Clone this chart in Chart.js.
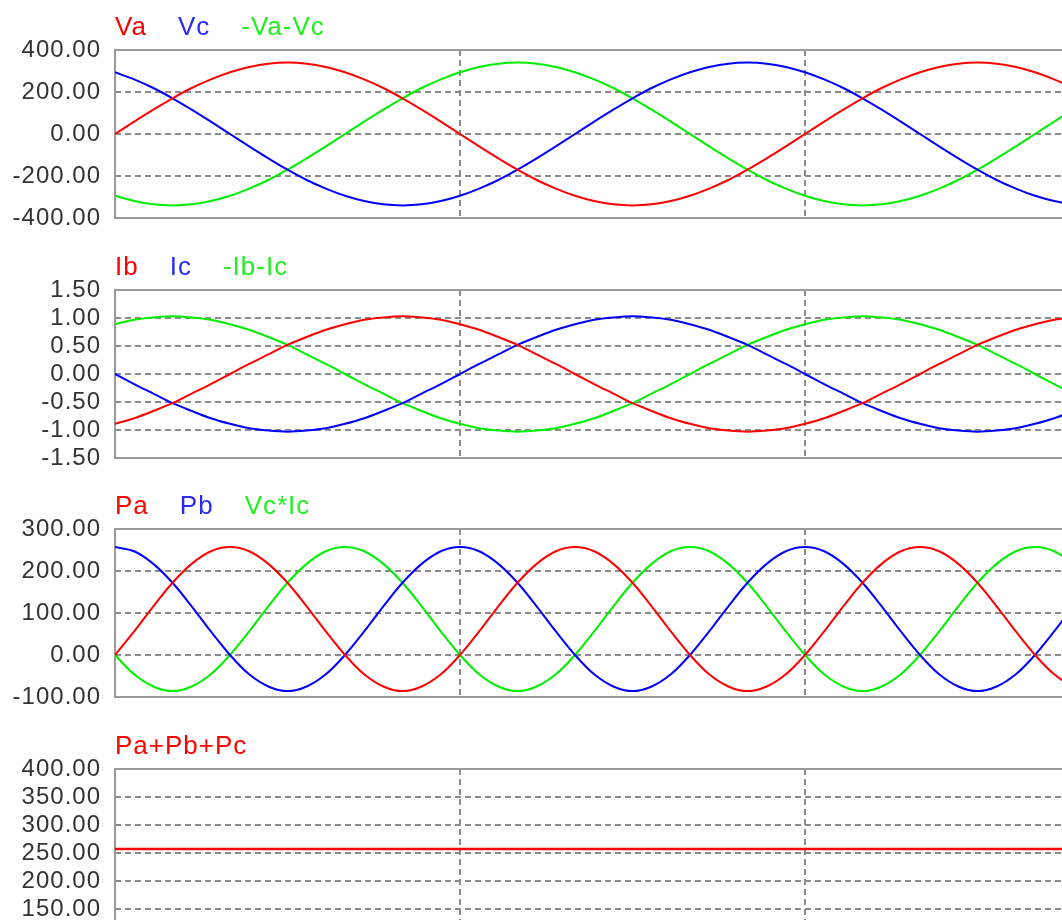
<!DOCTYPE html>
<html>
<head>
<meta charset="utf-8">
<script src="https://cdn.jsdelivr.net/npm/chart.js@4.4.1/dist/chart.umd.min.js"></script>
<style>
html, body { margin: 0; padding: 0; background: #fff; overflow: hidden; width: 1062px; height: 920px; }
.panel { position: absolute; left: 0; width: 1160px; height: 240px; }
.legend { position: absolute; left: 115px; top: 13px; font: 26px 'Liberation Sans', Arial, sans-serif; letter-spacing: 1px; line-height: 26px; white-space: nowrap; z-index: 2; }
.legend span { margin-right: 31px; }
</style>
</head>
<body>
<div class="panel" style="top:0px">
	<div class="legend"><span style="color:#ff0000">Va</span><span style="color:#2a2aff">Vc</span><span style="color:#22ee22">-Va-Vc</span></div>
	<canvas id="chart-v"></canvas>
</div>
<div class="panel" style="top:240px">
	<div class="legend"><span style="color:#ff0000">Ib</span><span style="color:#2a2aff">Ic</span><span style="color:#22ee22">-Ib-Ic</span></div>
	<canvas id="chart-i"></canvas>
</div>
<div class="panel" style="top:479px">
	<div class="legend"><span style="color:#ff0000">Pa</span><span style="color:#2a2aff">Pb</span><span style="color:#22ee22">Vc*Ic</span></div>
	<canvas id="chart-p"></canvas>
</div>
<div class="panel" style="top:719px">
	<div class="legend"><span style="color:#ff0000">Pa+Pb+Pc</span></div>
	<canvas id="chart-s"></canvas>
</div>
<script>
// electrical angle (degrees), one sample every 10 degrees
const angles = [
	0, 10, 20, 30, 40, 50, 60, 70, 80, 90, 100, 110, 120, 130, 140, 150, 160, 170,
	180, 190, 200, 210, 220, 230, 240, 250, 260, 270, 280, 290, 300, 310, 320, 330, 340, 350,
	360, 370, 380, 390, 400, 410, 420, 430, 440, 450, 460, 470, 480, 490, 500, 510, 520, 530, 540,
]

const va = [
	0, 59, 116, 170, 219, 260, 294, 319, 335, 340, 335, 319, 294, 260, 219, 170, 116, 59,
	0, -59, -116, -170, -219, -260, -294, -319, -335, -340, -335, -319, -294, -260, -219, -170, -116, -59,
	0, 59, 116, 170, 219, 260, 294, 319, 335, 340, 335, 319, 294, 260, 219, 170, 116, 59, 0,
]
const vc = [
	294, 260, 219, 170, 116, 59, 0, -59, -116, -170, -219, -260, -294, -319, -335, -340, -335, -319,
	-294, -260, -219, -170, -116, -59, 0, 59, 116, 170, 219, 260, 294, 319, 335, 340, 335, 319,
	294, 260, 219, 170, 116, 59, 0, -59, -116, -170, -219, -260, -294, -319, -335, -340, -335, -319, -294,
]
const vn = [
	-294, -319, -335, -340, -335, -319, -294, -260, -219, -170, -116, -59, 0, 59, 116, 170, 219, 260,
	294, 319, 335, 340, 335, 319, 294, 260, 219, 170, 116, 59, 0, -59, -116, -170, -219, -260,
	-294, -319, -335, -340, -335, -319, -294, -260, -219, -170, -116, -59, 0, 59, 116, 170, 219, 260, 294,
]

const ib = [
	-0.89, -0.79, -0.66, -0.52, -0.35, -0.18, 0, 0.18, 0.35, 0.52, 0.66, 0.79, 0.89, 0.97, 1.01, 1.03, 1.01, 0.97,
	0.89, 0.79, 0.66, 0.52, 0.35, 0.18, 0, -0.18, -0.35, -0.52, -0.66, -0.79, -0.89, -0.97, -1.01, -1.03, -1.01, -0.97,
	-0.89, -0.79, -0.66, -0.52, -0.35, -0.18, 0, 0.18, 0.35, 0.52, 0.66, 0.79, 0.89, 0.97, 1.01, 1.03, 1.01, 0.97, 0.89,
]
const ic = [
	0, -0.18, -0.35, -0.52, -0.66, -0.79, -0.89, -0.97, -1.01, -1.03, -1.01, -0.97, -0.89, -0.79, -0.66, -0.52, -0.35, -0.18,
	0, 0.18, 0.35, 0.52, 0.66, 0.79, 0.89, 0.97, 1.01, 1.03, 1.01, 0.97, 0.89, 0.79, 0.66, 0.52, 0.35, 0.18,
	0, -0.18, -0.35, -0.52, -0.66, -0.79, -0.89, -0.97, -1.01, -1.03, -1.01, -0.97, -0.89, -0.79, -0.66, -0.52, -0.35, -0.18, 0,
]
const inn = [
	0.89, 0.97, 1.01, 1.03, 1.01, 0.97, 0.89, 0.79, 0.66, 0.52, 0.35, 0.18, 0, -0.18, -0.35, -0.52, -0.66, -0.79,
	-0.89, -0.97, -1.01, -1.03, -1.01, -0.97, -0.89, -0.79, -0.66, -0.52, -0.35, -0.18, 0, 0.18, 0.35, 0.52, 0.66, 0.79,
	0.89, 0.97, 1.01, 1.03, 1.01, 0.97, 0.89, 0.79, 0.66, 0.52, 0.35, 0.18, 0, -0.18, -0.35, -0.52, -0.66, -0.79, -0.89,
]

const pa = [
	0, 56, 116, 172, 217, 247, 257, 247, 217, 172, 116, 56, 0, -46, -75, -86, -75, -46,
	0, 56, 116, 172, 217, 247, 257, 247, 217, 172, 116, 56, 0, -46, -75, -86, -75, -46,
	0, 56, 116, 172, 217, 247, 257, 247, 217, 172, 116, 56, 0, -46, -75, -86, -75, -46, 0,
]
const pb = [
	257, 247, 217, 172, 116, 56, 0, -46, -75, -86, -75, -46, 0, 56, 116, 172, 217, 247,
	257, 247, 217, 172, 116, 56, 0, -46, -75, -86, -75, -46, 0, 56, 116, 172, 217, 247,
	257, 247, 217, 172, 116, 56, 0, -46, -75, -86, -75, -46, 0, 56, 116, 172, 217, 247, 257,
]
const pc = [
	0, -46, -75, -86, -75, -46, 0, 56, 116, 172, 217, 247, 257, 247, 217, 172, 116, 56,
	0, -46, -75, -86, -75, -46, 0, 56, 116, 172, 217, 247, 257, 247, 217, 172, 116, 56,
	0, -46, -75, -86, -75, -46, 0, 56, 116, 172, 217, 247, 257, 247, 217, 172, 116, 56, 0,
]
const psum = [
	257, 257, 257, 257, 257, 257, 257, 257, 257, 257, 257,
	257, 257, 257, 257, 257, 257, 257, 257, 257, 257, 257,
	257, 257, 257, 257, 257, 257, 257, 257, 257, 257, 257,
	257, 257, 257, 257, 257, 257, 257, 257, 257, 257, 257,
	257, 257, 257, 257, 257, 257, 257, 257, 257, 257, 257,
]

Chart.defaults.font.family = "'Liberation Sans', Arial, sans-serif"

const framePlugin = {
	id: 'frame',
	beforeDraw(chart) {
		chart.ctx.letterSpacing = '1px'
	},
	beforeDatasetsDraw(chart) {
		const { ctx, chartArea: a } = chart
		ctx.save()
		ctx.strokeStyle = '#9a9a9a'
		ctx.lineWidth = 2
		ctx.strokeRect(a.left, a.top, a.right - a.left, a.bottom - a.top)
		ctx.restore()
	},
}

function pts(values) {
	return values.map((v, i) => ({ x: angles[i], y: v }))
}

function line(values, color, width) {
	return {
		data: pts(values),
		borderColor: color,
		borderWidth: width || 2,
		pointRadius: 0,
		cubicInterpolationMode: 'monotone',
	}
}

function edgeGrid(lo, hi) {
	return ctx => (ctx.tick && (ctx.tick.value === lo || ctx.tick.value === hi)) ? 'rgba(0,0,0,0)' : '#8c8c8c'
}

function makeChart(id, datasets, min, max, step) {
	new Chart(document.getElementById(id), {
		type: 'line',
		data: { datasets: datasets },
		plugins: [framePlugin],
		options: {
			responsive: true,
			maintainAspectRatio: false,
			animation: false,
			layout: { padding: { top: 50, left: 0, right: 10, bottom: 22 } },
			plugins: {
				legend: { display: false },
				tooltip: { enabled: false },
			},
			scales: {
				x: {
					type: 'linear',
					min: 0,
					max: 540,
					afterFit: scale => { scale.height = 0 },
					ticks: { stepSize: 180, display: false },
					grid: { drawTicks: false, lineWidth: 2, color: edgeGrid(0, 540) },
					border: { display: false, dash: [6, 4] },
				},
				y: {
					min: min,
					max: max,
					afterFit: scale => {
						scale.width = 115
						scale.paddingTop = 0
						scale.paddingBottom = 0
					},
					ticks: {
						stepSize: step,
						autoSkip: false,
						color: '#333',
						padding: 14,
						font: { size: 24 },
						callback: v => v.toFixed(2),
					},
					grid: { drawTicks: false, lineWidth: 2, color: edgeGrid(min, max) },
					border: { display: false, dash: [6, 4] },
				},
			},
		},
	})
}

makeChart('chart-v', [line(va, '#ff0000'), line(vc, '#0000ff'), line(vn, '#00ee00')], -400, 400, 200)
makeChart('chart-i', [line(ib, '#ff0000'), line(ic, '#0000ff'), line(inn, '#00ee00')], -1.5, 1.5, 0.5)
makeChart('chart-p', [line(pa, '#ff0000'), line(pb, '#0000ff'), line(pc, '#00ee00')], -100, 300, 100)
makeChart('chart-s', [line(psum, '#ff0000', 2.5)], 100, 400, 50)
</script>
</body>
</html>
